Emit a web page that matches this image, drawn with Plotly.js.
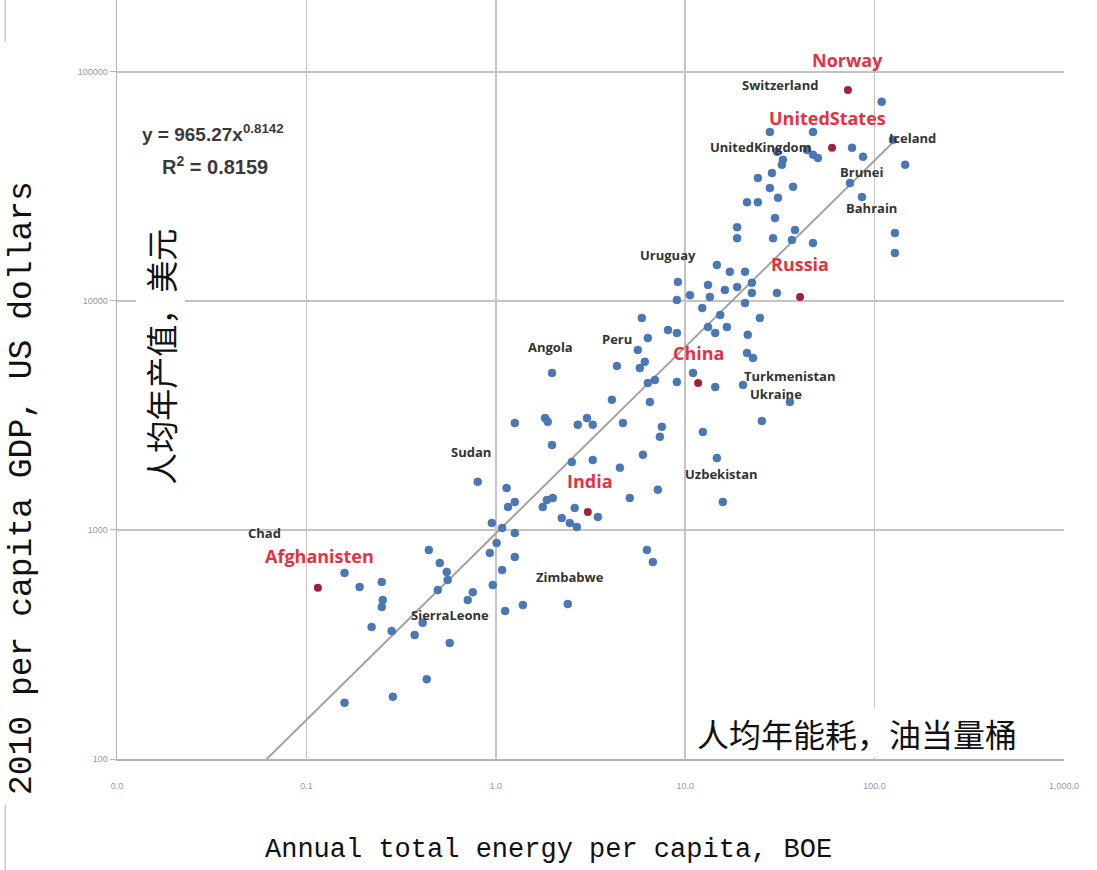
<!DOCTYPE html>
<html>
<head>
<meta charset="utf-8">
<script src="https://cdn.plot.ly/plotly-3.0.1.min.js"></script>
<style>html,body{margin:0;padding:0;background:#fff;}#chart{width:1097px;height:870px;}</style>
</head>
<body>
<div id="chart"></div>
<script>
// Annual total energy per capita (BOE) and 2010 GDP per capita (US$), all countries (blue)
const energy = [
  0.159,0.191,0.250,0.253,0.250,0.221,0.282,0.373,0.411,0.571,
  0.443,0.506,0.551,0.557,0.494,0.756,0.711,1.12,0.964,1.08,
  0.93,1.01,1.26,0.432,0.286,0.159,0.953,1.08,1.26,1.39,
  2.40,0.803,1.14,1.16,1.26,
  1.98,2.52,3.25,4.52,5.98,7.17,5.10,1.86,1.77,2.00,
  2.23,2.46,2.68,2.61,3.46,6.28,6.75,15.8,14.7,1.98,
  1.26,1.82,1.88,2.71,3.03,3.25,4.69,7.35,7.53,4.10,
  6.51,12.4,5.90,6.35,5.62,4.36,6.12,5.76,6.35,6.92,
  9.04,11.0,14.4,20.2,35.7,25.4,21.2,22.8,
  14.7,17.2,20.7,9.15,13.2,16.2,18.8,22.5,22.5,30.5,
  9.04,10.6,13.5,12.3,20.7,15.3,24.8,13.2,16.6,14.4,
  8.11,9.04,21.4,18.8,18.8,29.1,38.0,47.3,36.6,
  109,28.0,47.3,76.0,86.9,125,145,30.5,32.8,32.4,
  44.0,47.3,50.2,24.2,28.7,37.1,28.0,24.2,21.2,30.9,
  29.8,74.1,85.8,128,128
];
const gdp = [
  649,564,593,494,461,377,362,348,393,321,
  818,718,656,605,547,535,494,443,575,668,
  794,878,762,223,187,176,1073,1020,970,470,
  475,1622,1525,1260,1325,
  2350,1980,2020,1870,2130,1500,1380,1352,1260,1380,
  1128,1073,1031,1248,1140,818,724,1325,2060,4850,
  2930,3080,2965,2880,3080,2880,2930,2550,2820,3700,
  3620,2680,8430,6890,6110,5200,5420,5090,4380,4520,
  4430,4850,4210,4300,3620,2990,5930,5640,
  14350,13400,13400,12100,11750,11170,11500,12000,10840,10840,
  10100,10600,10400,9310,9790,8690,8430,7690,7690,7240,
  7460,7240,7110,21000,18800,18800,20400,17900,18450,
  74000,54700,54700,46600,42600,50500,39300,44800,41300,39300,
  45600,43500,42100,34400,36200,31500,31100,27000,27000,28200,
  23000,32700,28400,19800,16200
];

// Highlighted countries (red)
const hlNames  = ["Norway","United States","Russia","China","India","Afghanistan"];
const hlEnergy = [72.3, 59.6, 40.4, 11.7, 3.06, 0.115];
const hlGdp    = [83400, 46600, 10400, 4380, 1199, 559];

// Power-law trend line shown in the chart: y = 965.27 x^0.8142
const trendA = 965.27;
const trendB = 0.8142;
const trendEnergy = [0.058, 128];

// Axis tick labels
const xTickVals = [0.01, 0.1, 1, 10, 100, 1000];
const xTickText = ["0.0", "0.1", "1.0", "10.0", "100.0", "1,000.0"];
const yTickVals = [100, 1000, 10000, 100000];
const yTickText = ["100", "1000", "10000", "100000"];

// Country labels (text, log10 energy, log10 gdp)
const redLabels = ["Norway","UnitedStates","Russia","China","India","Afghanisten"];
const redLabelPos = [[1.859,5.052],[1.749,4.799],[1.606,4.162],[1.072,3.773],[0.497,3.214],[-0.930,2.886]];
const blackLabels = ["Switzerland","UnitedKingdom","Iceland","Brunei","Bahrain","Uruguay","Angola","Peru",
  "Turkmenistan","Ukraine","Sudan","Uzbekistan","Chad","Zimbabwe","SierraLeone"];
const blackLabelPos = [[1.500,4.943],[1.395,4.672],[2.198,4.712],[1.933,4.563],[1.986,4.406],[0.909,4.201],
  [0.291,3.799],[0.639,3.834],[1.553,3.672],[1.479,3.594],[-0.132,3.341],[1.194,3.245],[-1.220,2.987],
  [0.391,2.795],[-0.243,2.629]];

const traces = [
  {
    x: trendEnergy, y: trendEnergy.map(v => trendA * Math.pow(v, trendB)),
    type: "scatter", mode: "lines", line: {color: "#a3a3a3", width: 2},
    hoverinfo: "skip", showlegend: false
  },
  {
    x: energy, y: gdp, type: "scatter", mode: "markers",
    marker: {symbol: "circle", size: 8, color: "#4a78b5", line: {color: "#3f6ca8", width: 0.5}},
    showlegend: false
  },
  {
    x: hlEnergy, y: hlGdp, text: hlNames, type: "scatter", mode: "markers",
    marker: {symbol: "circle", size: 8, color: "#a3203c"},
    showlegend: false
  }
];

const annotations = [];
redLabels.forEach((t, i) => annotations.push({
  text: "<b>" + t + "</b>", x: redLabelPos[i][0], y: redLabelPos[i][1], xref: "x", yref: "y",
  showarrow: false, xanchor: "center", yanchor: "middle",
  font: {family: "Open Sans, Liberation Sans, sans-serif", size: 18, color: "#e5323f"}
}));
blackLabels.forEach((t, i) => annotations.push({
  text: "<b>" + t + "</b>", x: blackLabelPos[i][0], y: blackLabelPos[i][1], xref: "x", yref: "y",
  showarrow: false, xanchor: "center", yanchor: "middle",
  font: {family: "Open Sans, Liberation Sans, sans-serif", size: 13, color: "#333333"}
}));
annotations.push(
  {text: "<b>y = 965.27x<sup>0.8142</sup></b>", x: -1.495, y: 4.734, xref: "x", yref: "y",
   showarrow: false, xanchor: "center", yanchor: "middle",
   font: {family: "Liberation Sans, Arial, sans-serif", size: 19, color: "#3a3a3a"}},
  {text: "<b>R<sup>2</sup> = 0.8159</b>", x: -1.484, y: 4.590, xref: "x", yref: "y",
   showarrow: false, xanchor: "center", yanchor: "middle",
   font: {family: "Liberation Sans, Arial, sans-serif", size: 20, color: "#3a3a3a"}},
  {text: "人均年产值，美元", x: 0.0454, y: 0.530, xref: "paper", yref: "paper", textangle: -90,
   showarrow: false, xanchor: "center", yanchor: "middle", bgcolor: "#ffffff",
   font: {family: "Noto Sans CJK SC", size: 32, color: "#111111"}},
  {text: "人均年能耗，油当量桶", x: 0.781, y: 0.034, xref: "paper", yref: "paper",
   showarrow: false, xanchor: "center", yanchor: "middle", bgcolor: "#ffffff",
   font: {family: "Noto Sans CJK SC", size: 32, color: "#111111"}},
  {text: "2010 per capita GDP, US dollars", x: -0.1003, y: 0.357, xref: "paper", yref: "paper", textangle: -90,
   showarrow: false, xanchor: "center", yanchor: "middle",
   font: {family: "Liberation Mono, DejaVu Sans Mono, monospace", size: 33, color: "#111111"}},
  {text: "Annual total energy per capita, BOE", x: 0.456, y: -0.120, xref: "paper", yref: "paper",
   showarrow: false, xanchor: "center", yanchor: "middle",
   font: {family: "Liberation Mono, DejaVu Sans Mono, monospace", size: 27, color: "#111111"}}
);

const layout = {
  width: 1097, height: 870,
  margin: {l: 117, r: 33, t: 0, b: 111},
  paper_bgcolor: "#ffffff", plot_bgcolor: "#ffffff",
  xaxis: {
    type: "log", range: [-2, 3], tickvals: xTickVals, ticktext: xTickText,
    showgrid: true, gridcolor: "#c4c4c4", gridwidth: 1.5,
    showline: true, linecolor: "#b5b5b5", linewidth: 1.5,
    ticks: "outside", ticklen: 18, tickcolor: "rgba(0,0,0,0)",
    tickfont: {family: "Liberation Sans, Arial, sans-serif", size: 9, color: "#9a9a9a"},
    zeroline: false
  },
  yaxis: {
    type: "log", range: [2, 5.314], tickvals: yTickVals, ticktext: yTickText,
    showgrid: true, gridcolor: "#c4c4c4", gridwidth: 1.5,
    showline: true, linecolor: "#b5b5b5", linewidth: 1.5,
    ticks: "outside", ticklen: 6, tickcolor: "#b5b5b5",
    tickfont: {family: "Liberation Sans, Arial, sans-serif", size: 9, color: "#9a9a9a"},
    zeroline: false
  },
  annotations: annotations,
  shapes: [
    {type: "line", xref: "paper", yref: "paper", x0: -0.118, x1: -0.118, y0: 1, y1: 0.945,
     line: {color: "#c8c8c8", width: 1.5}},
    {type: "line", xref: "paper", yref: "paper", x0: -0.118, x1: -0.118, y0: -0.06, y1: -0.146,
     line: {color: "#c8c8c8", width: 1.5}}
  ],
  showlegend: false
};

Plotly.newPlot("chart", traces, layout, {displayModeBar: false, staticPlot: true});
</script>
</body>
</html>
